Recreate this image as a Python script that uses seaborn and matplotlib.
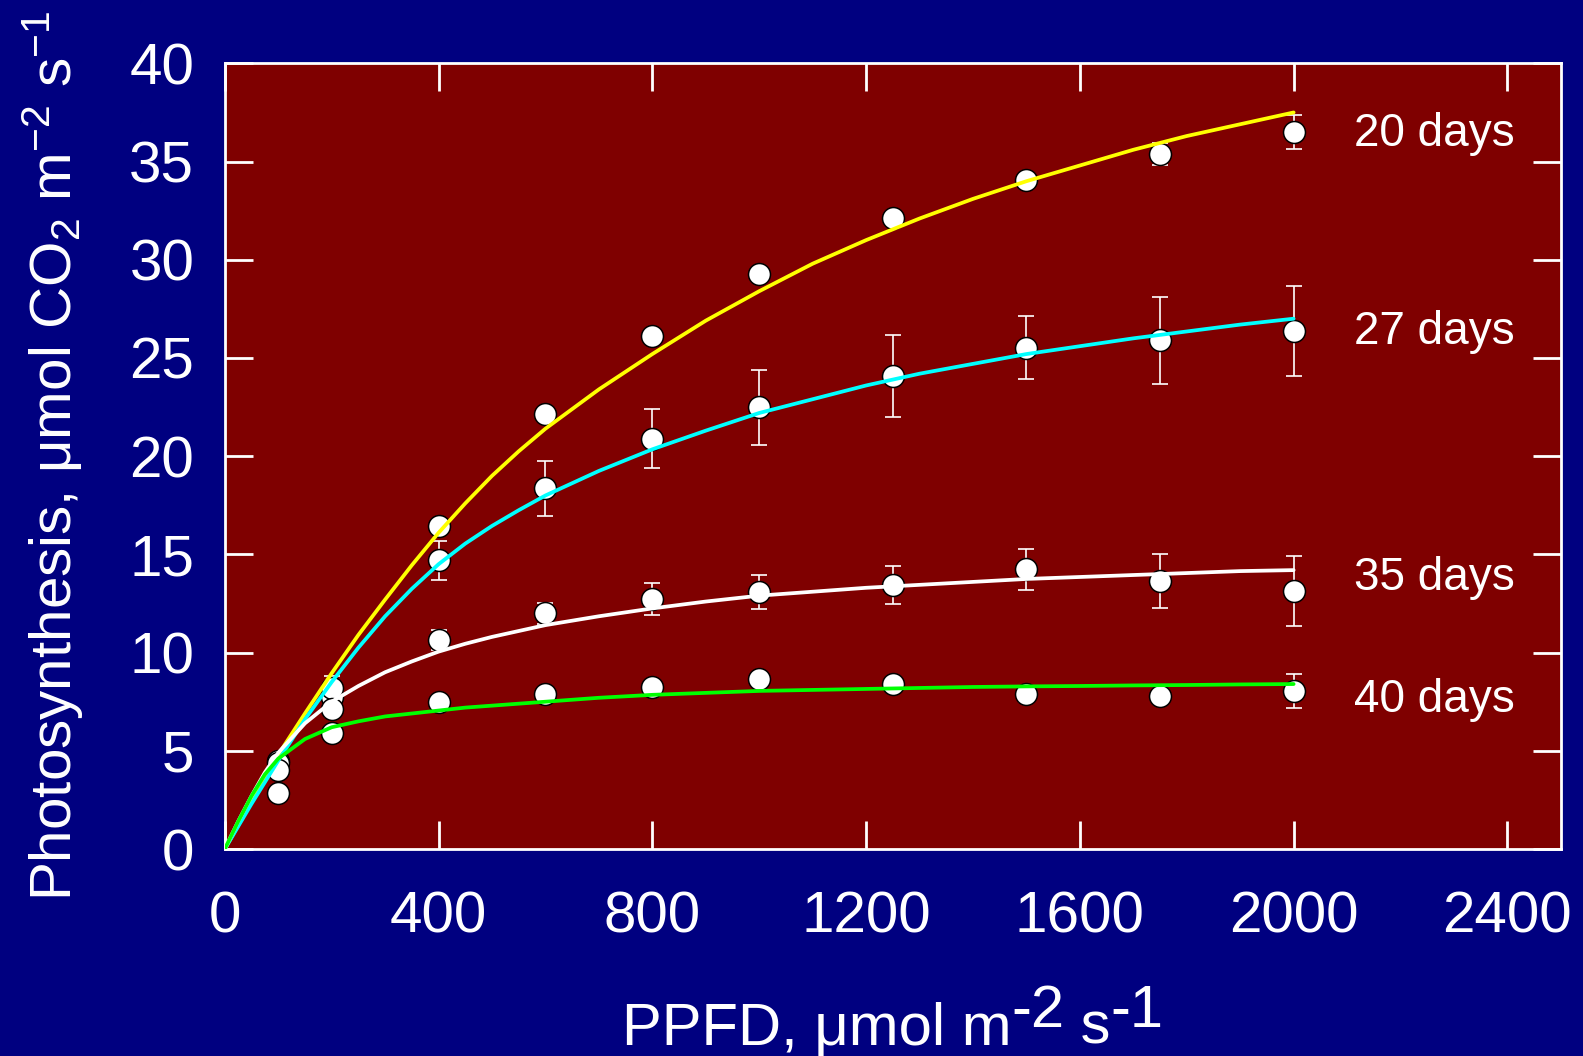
import numpy as np
import pandas as pd
import matplotlib
matplotlib.use("Agg")
import matplotlib.pyplot as plt
import seaborn as sns

# measured points (PPFD, umol m-2 s-1)
ppfd = [100, 200, 400, 600, 800, 1000, 1250, 1500, 1750, 2000]
days_20 = [4.5, 7.75, 16.43, 22.13, 26.14, 29.27, 32.14, 34.04, 35.4, 36.5]
days_27 = [4.4, 8.2, 14.69, 18.38, 20.9, 22.49, 24.08, 25.52, 25.9, 26.36]
days_35 = [4.0, 7.15, 10.64, 12.0, 12.72, 13.08, 13.43, 14.25, 13.64, 13.13]
days_40 = [2.85, 5.9, 7.48, 7.89, 8.24, 8.68, 8.42, 7.91, 7.79, 8.04]
err_20 = [0.2, 0.2, 0.2, 0.2, 0.2, 0.2, 0.2, 0.2, 0.55, 0.85]
err_27 = [0.2, 0.6, 1.0, 1.4, 1.5, 1.9, 2.1, 1.6, 2.2, 2.3]
err_35 = [0.2, 0.45, 0.5, 0.55, 0.8, 0.87, 0.96, 1.05, 1.37, 1.78]
err_40 = [0.2, 0.2, 0.2, 0.2, 0.2, 0.2, 0.2, 0.4, 0.3, 0.87]

# fitted curves, values
curve_x = [0, 25, 50, 75, 100, 150, 200, 250, 300, 350, 400, 450, 500, 550, 600,
           700, 800, 900, 1000, 1100, 1200, 1300, 1400, 1500, 1600, 1700, 1800, 1900, 2000]
fit_20 = [0, 1.2, 2.4, 3.6, 4.8, 6.9, 8.95, 10.9, 12.7, 14.45, 16.1, 17.6, 19.0, 20.25, 21.4,
          23.4, 25.2, 26.9, 28.4, 29.8, 31.0, 32.1, 33.1, 34.0, 34.8, 35.6, 36.3, 36.9, 37.5]
fit_27 = [0, 1.15, 2.3, 3.4, 4.5, 6.6, 8.5, 10.25, 11.85, 13.25, 14.5, 15.55, 16.45, 17.25, 18.0,
          19.25, 20.35, 21.3, 22.2, 22.9, 23.6, 24.2, 24.7, 25.2, 25.6, 26.0, 26.35, 26.7, 27.0]
fit_35 = [0, 1.4, 2.7, 3.9, 4.9, 6.4, 7.5, 8.3, 9.0, 9.55, 10.05, 10.45, 10.8, 11.1, 11.4,
          11.85, 12.25, 12.6, 12.9, 13.1, 13.3, 13.45, 13.6, 13.75, 13.85, 13.95, 14.05, 14.15, 14.2]
fit_40 = [0, 1.4, 2.7, 3.8, 4.6, 5.6, 6.2, 6.5, 6.75, 6.9, 7.05, 7.2, 7.3, 7.4, 7.5,
          7.7, 7.85, 7.95, 8.05, 8.1, 8.15, 8.2, 8.25, 8.28, 8.3, 8.33, 8.35, 8.38, 8.4]

labels = ["20 days", "27 days", "35 days", "40 days"]
label_y = [35.78, 25.7, 13.18, 6.97]
colors = ["#FFFF00", "#00FFFF", "#FFFFFF", "#00FF00"]

pts = pd.DataFrame({
    "ppfd": ppfd * 4,
    "rate": days_20 + days_27 + days_35 + days_40,
    "err": err_20 + err_27 + err_35 + err_40,
    "series": np.repeat(labels, len(ppfd)),
})
fits = pd.DataFrame({
    "ppfd": curve_x * 4,
    "rate": fit_20 + fit_27 + fit_35 + fit_40,
    "series": np.repeat(labels, len(curve_x)),
})

sns.set_style("ticks")
plt.rcParams["font.family"] = ["Liberation Sans", "DejaVu Sans"]
plt.rcParams["mathtext.fontset"] = "custom"
plt.rcParams["mathtext.rm"] = "Liberation Sans"
plt.rcParams["mathtext.it"] = "Liberation Sans:italic"
plt.rcParams["mathtext.bf"] = "Liberation Sans:bold"

fig = plt.figure(figsize=(15.83, 10.56), dpi=100, facecolor="#000080")
ax = fig.add_axes([0.142, 0.196, 0.844, 0.744])
ax.set_facecolor("#7F0000")

ax.errorbar(pts["ppfd"], pts["rate"], yerr=pts["err"], fmt="none",
            ecolor="white", elinewidth=1.2, capsize=5.8, capthick=1.2, zorder=2)
sns.scatterplot(data=pts, x="ppfd", y="rate", ax=ax, color="white",
                edgecolor="black", linewidth=1.1, s=250, zorder=3, legend=False)
sns.lineplot(data=fits, x="ppfd", y="rate", hue="series", hue_order=labels,
             palette=dict(zip(labels, colors)), linewidth=2.7, sort=False,
             legend=False, ax=ax, zorder=4)

for lab, yy in zip(labels, label_y):
    ax.text(2113, yy, lab, color="white", fontsize=33, ha="left", va="baseline")

ax.set_xlim(0, 2500)
ax.set_ylim(0, 40)
ax.set_xticks(range(0, 2401, 400))
ax.set_yticks(range(0, 41, 5))
ax.tick_params(direction="in", length=20, width=2, top=True, right=True,
               labelsize=42, colors="white")
ax.tick_params(axis="x", pad=30)
ax.tick_params(axis="y", pad=22)
for sp in ax.spines.values():
    sp.set_color("white")
    sp.set_linewidth(2)

ax.set_xlabel("")
ax.set_ylabel(r"Photosynthesis, μmol CO$_{2}$ m$^{-2}$ s$^{-1}$",
              color="white", fontsize=42, labelpad=31)

# x label with full-size raised exponents
fig.canvas.draw()
renderer = fig.canvas.get_renderer()
parts = [("PPFD, μmol m", 0), ("-2", 17), (" s", 0), ("-1", 17)]
texts = []
for s, dy in parts:
    t = fig.text(0, 0, s, color="white", fontsize=43, ha="left", va="baseline",
                 transform=None)
    texts.append((t, dy))
widths = [t.get_window_extent(renderer).width for t, _ in texts]
ax_box = ax.get_window_extent(renderer)
x0 = (ax_box.x0 + ax_box.x1) / 2 - sum(widths) / 2
base = 12
for (t, dy), w in zip(texts, widths):
    t.set_position((x0, base + dy))
    x0 += w

fig.savefig("out.png", dpi=100, facecolor=fig.get_facecolor())
